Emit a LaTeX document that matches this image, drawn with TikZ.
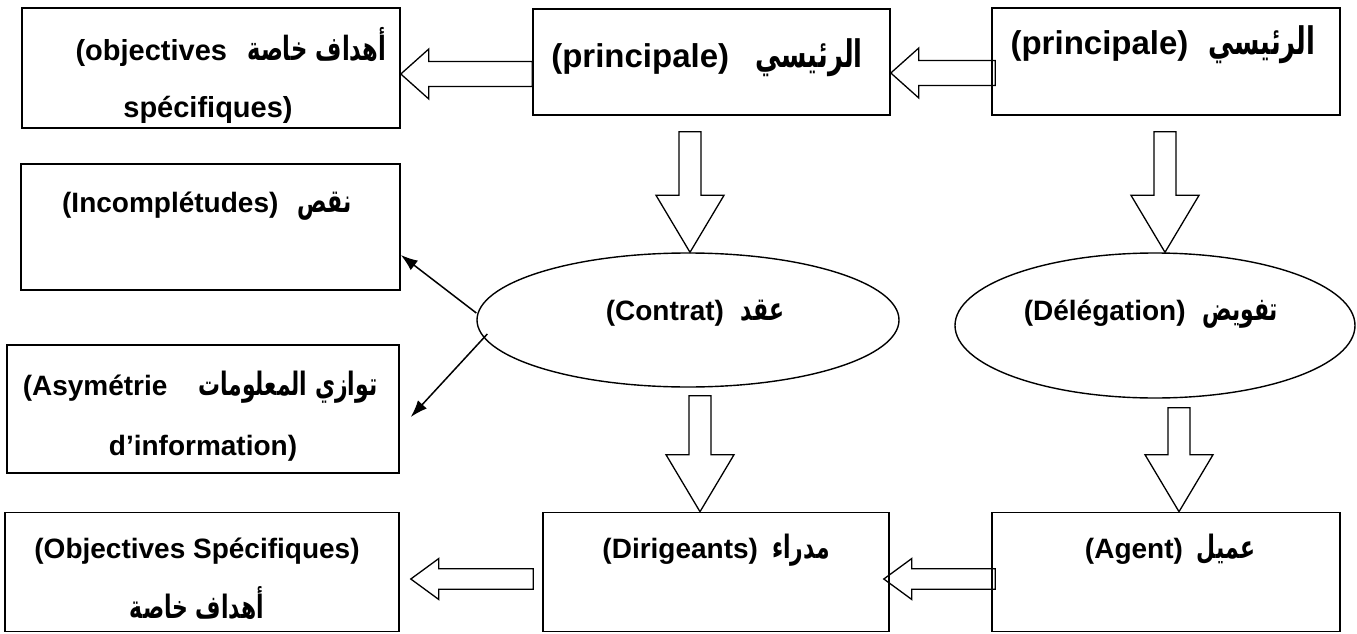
\documentclass[tikz,border=0pt]{standalone}
\usepackage{fontspec}
\setmainfont{Liberation Sans}
\newfontfamily\arabicfont[Script=Arabic,Scale=1.15,FakeStretch=0.68]{DejaVu Sans}
\TeXXeTstate=1
\usepackage{tikz}
\usetikzlibrary{shapes.geometric}
\usetikzlibrary{arrows.meta}
\usetikzlibrary{calc}

\newcommand{\ar}[1]{{\arabicfont\bfseries\beginR #1\endR}}
% hollow block arrow pointing left: tail, tip, head half width
\newcommand{\hfat}[3]{%
  \draw[fat] let \p1=(#1), \p2=(#2) in
    (\x2,\y2) -- ({\x2+28pt},{\y2+#3}) -- ({\x2+28pt},{\y2+#3/2}) -- ({\x1},{\y2+#3/2})
    -- ({\x1},{\y2-#3/2}) -- ({\x2+28pt},{\y2-#3/2}) -- ({\x2+28pt},{\y2-#3}) -- cycle;}
% hollow block arrow pointing down: tail, tip
\newcommand{\vfat}[2]{%
  \draw[fat] let \p1=(#1), \p2=(#2) in
    (\x2,\y2) -- ({\x2-34pt},{\y2+57pt}) -- ({\x2-11pt},{\y2+57pt}) -- ({\x2-11pt},\y1)
    -- ({\x2+11pt},\y1) -- ({\x2+11pt},{\y2+57pt}) -- ({\x2+34pt},{\y2+57pt}) -- cycle;}

\begin{document}
\begin{tikzpicture}[x=1pt,y=-1pt,
  box/.style={rectangle, draw, line width=1.6pt, inner sep=0pt},
  oval/.style={ellipse, draw, line width=1.4pt, inner sep=0pt},
  txt/.style={anchor=base, inner sep=0pt, font=\fontsize{28}{34}\selectfont\bfseries},
  bigtxt/.style={txt, font=\fontsize{33}{40}\selectfont\bfseries},
  fat/.style={draw, line width=1.3pt, line join=miter},
  thin/.style={-{Latex[length=17pt,width=12pt]}, line width=1.5pt}]
\useasboundingbox (0,0) rectangle (1357,634);

% Boxes
\node[box, minimum width=378pt, minimum height=120pt] (obj1) at (211,68) {};
\node[box, minimum width=357pt, minimum height=106pt] (prin1) at (711.5,62) {};
\node[box, minimum width=348pt, minimum height=107pt] (prin2) at (1166,61.5) {};
\node[box, minimum width=379pt, minimum height=126pt] (incomp) at (210.5,227) {};
\node[box, minimum width=392pt, minimum height=128pt] (asym) at (203,409) {};
\node[box, minimum width=394pt, minimum height=119pt] (obj2) at (202,572) {};
\node[box, minimum width=346pt, minimum height=119pt] (dir) at (716,572) {};
\node[box, minimum width=348pt, minimum height=119pt] (agent) at (1166,572) {};

% Ellipses
\node[oval, minimum width=422pt, minimum height=134pt] (contrat) at (688,320) {};
\node[oval, minimum width=400pt, minimum height=145pt] (deleg) at (1155,325.5) {};

% Texts
\node[txt, font=\fontsize{29}{35}\selectfont\bfseries] (tobj1a) at (231,60) {(objectives\hspace{.7em}\ar{أهداف خاصة}};
\node[txt, font=\fontsize{29}{35}\selectfont\bfseries] (tobj1b) at (208,117) {spécifiques)};
\node[bigtxt] (tprin1) at (707,67) {(principale)\hspace{.8em}\ar{الرئيسي}};
\node[bigtxt] (tprin2) at (1163,55) {(principale)\hspace{.6em}\ar{الرئيسي}};
\node[txt] (tincomp) at (207,212) {(Incomplétudes)\hspace{.7em}\ar{نقص}};
\node[txt] (tasyma) at (200,395) {(Asymétrie\hspace{1.1em}\ar{توازي المعلومات}};
\node[txt] (tasymb) at (203,455) {d’information)};
\node[txt] (tcontrat) at (695,320) {(Contrat)\hspace{.6em}\ar{عقد}};
\node[txt] (tdeleg) at (1151,320) {(Délégation)\hspace{.6em}\ar{تفويض}};
\node[txt] (tobj2a) at (197,558) {(Objectives Spécifiques)};
\node[txt] (tobj2b) at (197,618) {\ar{أهداف خاصة}};
\node[txt] (tdir) at (716,558) {(Dirigeants)\hspace{.5em}\ar{مدراء}};
\node[txt] (tagent) at (1170,558) {(Agent)\hspace{.5em}\ar{عميل}};

% Block arrows
\hfat{[xshift=4pt]prin2.west}{[yshift=-11pt]prin1.east}{25pt}
\hfat{prin1.west}{[yshift=-6pt]obj1.east}{25pt}
\vfat{[yshift=-16pt]prin1.south}{[xshift=2pt]contrat.north}
\vfat{[yshift=-16pt]prin2.south}{[xshift=10pt]deleg.north}
\vfat{[yshift=-8pt]contrat.south}{[xshift=-16pt]dir.north}
\vfat{[yshift=-9pt]deleg.south}{[xshift=13pt]agent.north}
\hfat{[xshift=4pt]agent.west}{[xshift=-6pt,yshift=-7pt]dir.east}{20.5pt}
\hfat{[xshift=-9pt]dir.west}{[xshift=11pt,yshift=-7pt]obj2.east}{20.5pt}

% Thin arrows
\draw[thin] ([yshift=7pt]contrat.west) -- ([yshift=-28pt]incomp.east);
\draw[thin] ([xshift=11pt,yshift=-14pt]contrat.west) -- ([xshift=11pt,yshift=-8pt]asym.east);

\end{tikzpicture}
\end{document}
